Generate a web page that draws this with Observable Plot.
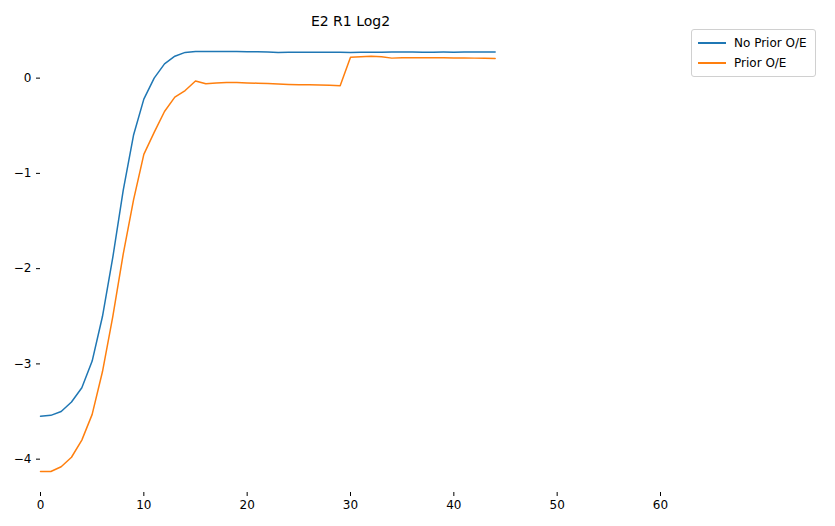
<!DOCTYPE html>
<html>
<head>
<meta charset="utf-8">
<script src="https://cdn.jsdelivr.net/npm/d3@7"></script>
<script src="https://cdn.jsdelivr.net/npm/@observablehq/plot@0.6"></script>
<style>
  body { margin: 0; font-family: "DejaVu Sans", sans-serif; background: #fff; }
  #wrap { position: relative; width: 835px; height: 526px; }
  #legend { position: absolute; left: 691px; top: 29px; border: 1px solid #d0d0d0; border-radius: 3px;
    padding: 3px 8px 3px 6px; font-size: 12px; background: #fff; }
  .row { display: flex; align-items: center; height: 20px; }
  .sw { width: 28px; height: 2px; margin-right: 8px; }
</style>
</head>
<body>
<div id="wrap"><div id="chart"></div><div id="legend"></div></div>
<script>
const steps = d3.range(0, 45);
const noPrior = [-3.55, -3.54, -3.50, -3.40, -3.25, -2.97, -2.50, -1.88, -1.18, -0.60,
  -0.22, 0.00, 0.15, 0.23, 0.27, 0.28, 0.28, 0.28, 0.28, 0.28,
  0.278, 0.276, 0.273, 0.27, 0.272, 0.271, 0.272, 0.271, 0.272, 0.271,
  0.27, 0.272, 0.272, 0.272, 0.273, 0.273, 0.273, 0.272, 0.272, 0.273,
  0.272, 0.273, 0.275, 0.275, 0.274];
const prior = [-4.13, -4.13, -4.08, -3.98, -3.80, -3.53, -3.08, -2.50, -1.85, -1.28,
  -0.80, -0.57, -0.35, -0.20, -0.13, -0.03, -0.06, -0.05, -0.045, -0.045,
  -0.05, -0.053, -0.057, -0.062, -0.066, -0.069, -0.07, -0.072, -0.074, -0.08,
  0.22, 0.225, 0.23, 0.225, 0.21, 0.213, 0.215, 0.215, 0.214, 0.213,
  0.212, 0.212, 0.21, 0.208, 0.207];
const series = [
  {name: "No Prior O/E", color: "#1f77b4", values: noPrior},
  {name: "Prior O/E", color: "#ff7f0e", values: prior}
];
const rows = series.flatMap(s => s.values.map((v, i) => ({x: steps[i], y: v, name: s.name})));

const chart = Plot.plot({
  width: 835, height: 526,
  marginLeft: 40, marginRight: 175, marginTop: 30, marginBottom: 34,
  style: {fontFamily: "DejaVu Sans", fontSize: "12px", color: "#000"},
  x: {domain: [0, 60], ticks: [0, 10, 20, 30, 40, 50, 60], label: null, tickSize: 4, tickPadding: 4},
  y: {domain: [-4.35, 0.5], ticks: [-4, -3, -2, -1, 0], label: null, tickSize: 4, tickFormat: d => d < 0 ? "\u2212" + Math.abs(d) : d},
  color: {domain: series.map(s => s.name), range: series.map(s => s.color)},
  marks: [
    Plot.line(rows, {x: "x", y: "y", z: "name", stroke: "name", strokeWidth: 1.5}),
    Plot.text(["E2 R1 Log2"], {frameAnchor: "top", dy: -14, fontSize: 14})
  ]
});
chart.querySelectorAll("[aria-label='x-axis tick label'] text, [aria-label='y-axis tick label'] text")
  .forEach(t => t.setAttribute("font-size", 12));
document.getElementById("chart").appendChild(chart);

const lg = document.getElementById("legend");
series.forEach(s => {
  const r = document.createElement("div");
  r.className = "row";
  r.innerHTML = `<span class="sw" style="background:${s.color}"></span>${s.name}`;
  lg.appendChild(r);
});
</script>
</body>
</html>
